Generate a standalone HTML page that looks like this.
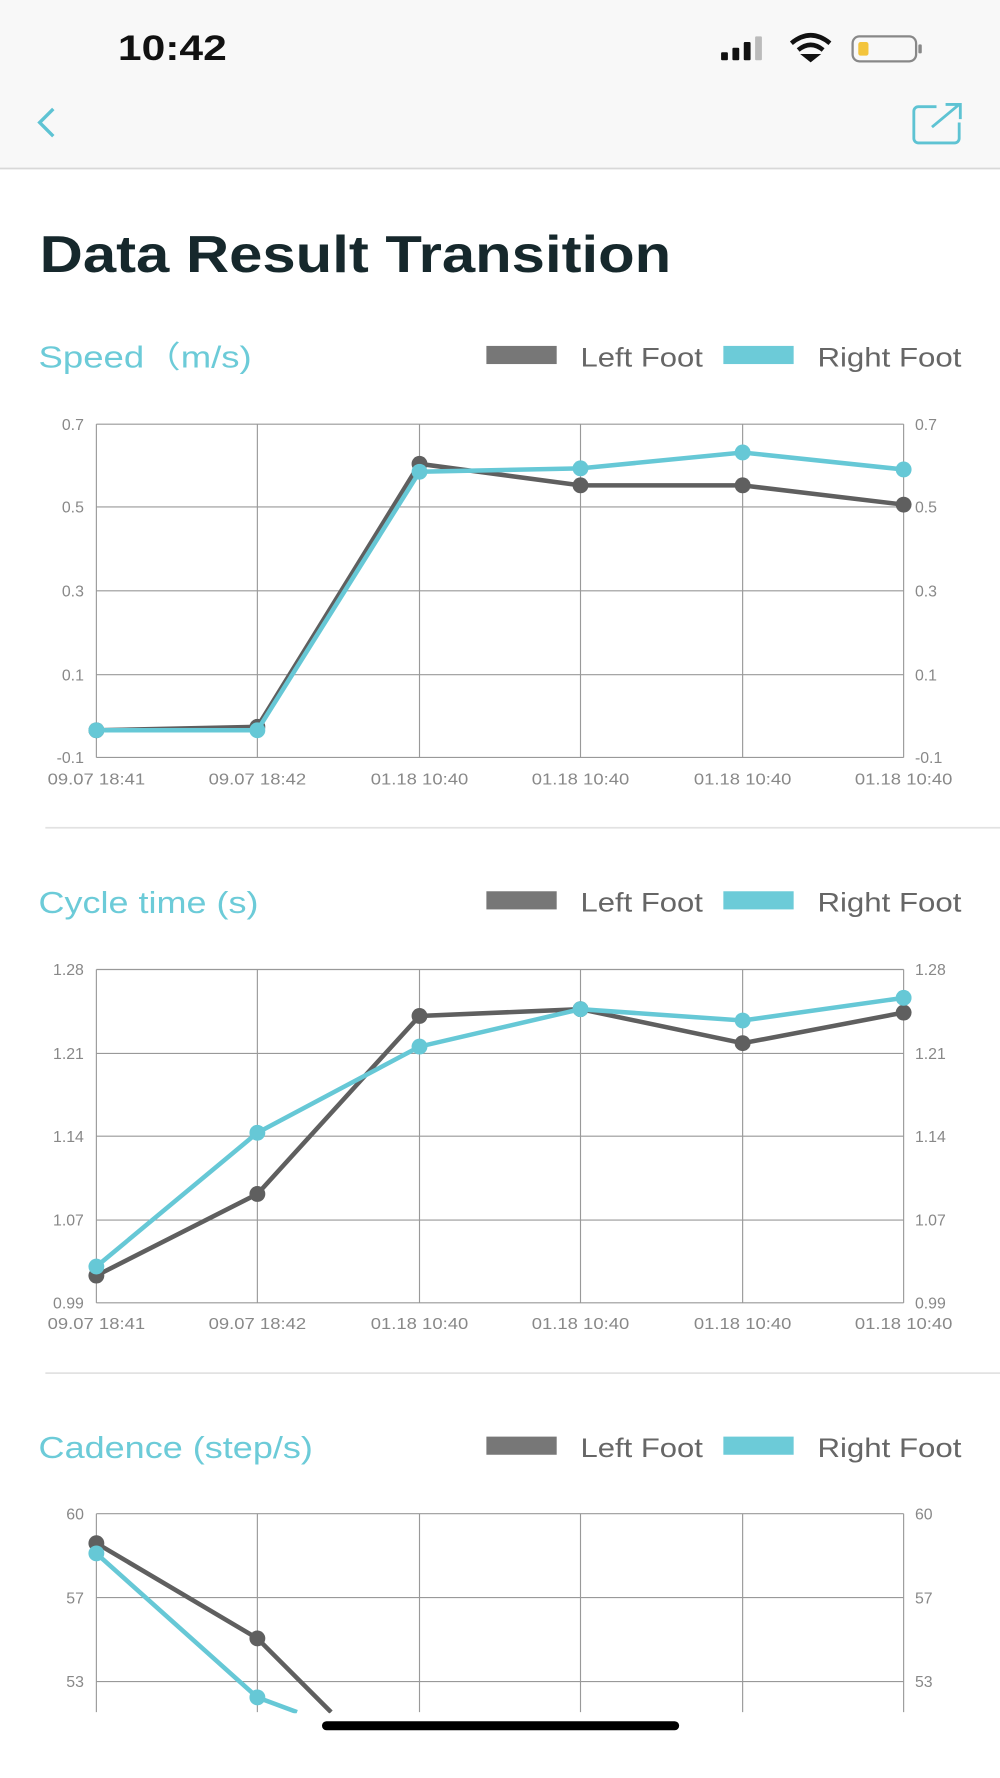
<!DOCTYPE html>
<html><head><meta charset="utf-8"><style>
html,body{margin:0;padding:0;background:#fff;width:1000px;height:1778px;overflow:hidden}
svg{display:block}
text{font-family:"Liberation Sans",sans-serif}
</style></head><body>
<svg width="1000" height="1778" viewBox="0 0 882 1568" xmlns="http://www.w3.org/2000/svg">
<rect x="0" y="0" width="882" height="148" fill="#f8f8f8"/>
<line x1="0" y1="148.5" x2="882" y2="148.5" stroke="#d8d8d8" stroke-width="1.5"/>
<text x="104" y="53" font-size="31" font-weight="bold" fill="#111" textLength="96" lengthAdjust="spacingAndGlyphs">10:42</text>
<rect x="636" y="46" width="6" height="7" rx="1" fill="#111"/>
<rect x="646" y="42" width="6" height="11" rx="1" fill="#111"/>
<rect x="656" y="37" width="6" height="16" rx="1" fill="#111"/>
<rect x="666" y="32" width="6" height="21" rx="1" fill="#bbb"/>
<path d="M698 38 Q715 24 732 38" stroke="#111" stroke-width="4" fill="none"/>
<path d="M704 44 Q715 35 726 44" stroke="#111" stroke-width="4" fill="none"/>
<path d="M710 49 L715 53 L720 49 Z" fill="#111" stroke="#111" stroke-width="3"/>
<rect x="752" y="32" width="56" height="22" rx="6" fill="none" stroke="#888" stroke-width="2"/>
<rect x="757" y="37" width="9" height="12" rx="2" fill="#f3c43c"/>
<rect x="810" y="39" width="3" height="8" rx="1" fill="#888"/>
<path d="M47 96 L35 108 L47 120" stroke="#5ec3d3" stroke-width="3" fill="none"/>
<path d="M826 94 H810 a4 4 0 0 0 -4 4 V122 a4 4 0 0 0 4 4 H842 a4 4 0 0 0 4 -4 V108" stroke="#5ec3d3" stroke-width="2.5" fill="none"/>
<path d="M822 112 L846 92 M834 92 H847 V105" stroke="#5ec3d3" stroke-width="2.5" fill="none"/>
<text x="35" y="240" font-size="46" font-weight="bold" fill="#16282c" textLength="557" lengthAdjust="spacingAndGlyphs">Data Result Transition</text>

<g>
<text x="34" y="324" font-size="27" fill="#6ccbd8" textLength="188" lengthAdjust="spacingAndGlyphs">Speed（m/s)</text>
<rect x="429" y="305" width="62" height="16" fill="#777"/><text x="512" y="323" font-size="24" fill="#666" textLength="108" lengthAdjust="spacingAndGlyphs">Left Foot</text>
<rect x="638" y="305" width="62" height="16" fill="#6ccbd8"/><text x="721" y="323" font-size="24" fill="#666" textLength="127" lengthAdjust="spacingAndGlyphs">Right Foot</text>
<g stroke="#999" stroke-width="1">
<line x1="85" y1="374" x2="797" y2="374"/><line x1="85" y1="447" x2="797" y2="447"/><line x1="85" y1="521" x2="797" y2="521"/><line x1="85" y1="595" x2="797" y2="595"/><line x1="85" y1="668" x2="797" y2="668"/>
<line x1="85" y1="374" x2="85" y2="668"/><line x1="227" y1="374" x2="227" y2="668"/><line x1="370" y1="374" x2="370" y2="668"/><line x1="512" y1="374" x2="512" y2="668"/><line x1="655" y1="374" x2="655" y2="668"/><line x1="797" y1="374" x2="797" y2="668"/>
</g>
<g font-size="14" fill="#888" text-anchor="end">
<text x="74" y="379">0.7</text><text x="74" y="452">0.5</text><text x="74" y="526">0.3</text><text x="74" y="600">0.1</text><text x="74" y="673">-0.1</text></g>
<g font-size="14" fill="#888">
<text x="807" y="379">0.7</text><text x="807" y="452">0.5</text><text x="807" y="526">0.3</text><text x="807" y="600">0.1</text><text x="807" y="673">-0.1</text></g>
<g font-size="14" fill="#888">
<text x="42" y="692" textLength="86" lengthAdjust="spacingAndGlyphs">09.07 18:41</text><text x="184" y="692" textLength="86" lengthAdjust="spacingAndGlyphs">09.07 18:42</text><text x="327" y="692" textLength="86" lengthAdjust="spacingAndGlyphs">01.18 10:40</text><text x="469" y="692" textLength="86" lengthAdjust="spacingAndGlyphs">01.18 10:40</text><text x="612" y="692" textLength="86" lengthAdjust="spacingAndGlyphs">01.18 10:40</text><text x="754" y="692" textLength="86" lengthAdjust="spacingAndGlyphs">01.18 10:40</text></g>
<polyline points="85,644 227,641 370,409 512,428 655,428 797,445" fill="none" stroke="#5f5f5f" stroke-width="4"/>
<g fill="#5f5f5f"><circle cx="85" cy="644" r="7"/><circle cx="227" cy="641" r="7"/><circle cx="370" cy="409" r="7"/><circle cx="512" cy="428" r="7"/><circle cx="655" cy="428" r="7"/><circle cx="797" cy="445" r="7"/></g>
<polyline points="85,644 227,644 370,416 512,413 655,399 797,414" fill="none" stroke="#66c8d6" stroke-width="4"/>
<g fill="#66c8d6"><circle cx="85" cy="644" r="7"/><circle cx="227" cy="644" r="7"/><circle cx="370" cy="416" r="7"/><circle cx="512" cy="413" r="7"/><circle cx="655" cy="399" r="7"/><circle cx="797" cy="414" r="7"/></g>
</g>
<line x1="40" y1="730" x2="882" y2="730" stroke="#e2e2e2" stroke-width="1.5"/>

<g>
<text x="34" y="805" font-size="27" fill="#6ccbd8" textLength="194" lengthAdjust="spacingAndGlyphs">Cycle time (s)</text>
<rect x="429" y="786" width="62" height="16" fill="#777"/><text x="512" y="804" font-size="24" fill="#666" textLength="108" lengthAdjust="spacingAndGlyphs">Left Foot</text>
<rect x="638" y="786" width="62" height="16" fill="#6ccbd8"/><text x="721" y="804" font-size="24" fill="#666" textLength="127" lengthAdjust="spacingAndGlyphs">Right Foot</text>
<g stroke="#999" stroke-width="1">
<line x1="85" y1="855" x2="797" y2="855"/><line x1="85" y1="929" x2="797" y2="929"/><line x1="85" y1="1002" x2="797" y2="1002"/><line x1="85" y1="1076" x2="797" y2="1076"/><line x1="85" y1="1149" x2="797" y2="1149"/>
<line x1="85" y1="855" x2="85" y2="1149"/><line x1="227" y1="855" x2="227" y2="1149"/><line x1="370" y1="855" x2="370" y2="1149"/><line x1="512" y1="855" x2="512" y2="1149"/><line x1="655" y1="855" x2="655" y2="1149"/><line x1="797" y1="855" x2="797" y2="1149"/>
</g>
<g font-size="14" fill="#888" text-anchor="end">
<text x="74" y="860">1.28</text><text x="74" y="934">1.21</text><text x="74" y="1007">1.14</text><text x="74" y="1081">1.07</text><text x="74" y="1154">0.99</text></g>
<g font-size="14" fill="#888">
<text x="807" y="860">1.28</text><text x="807" y="934">1.21</text><text x="807" y="1007">1.14</text><text x="807" y="1081">1.07</text><text x="807" y="1154">0.99</text></g>
<g font-size="14" fill="#888">
<text x="42" y="1172" textLength="86" lengthAdjust="spacingAndGlyphs">09.07 18:41</text><text x="184" y="1172" textLength="86" lengthAdjust="spacingAndGlyphs">09.07 18:42</text><text x="327" y="1172" textLength="86" lengthAdjust="spacingAndGlyphs">01.18 10:40</text><text x="469" y="1172" textLength="86" lengthAdjust="spacingAndGlyphs">01.18 10:40</text><text x="612" y="1172" textLength="86" lengthAdjust="spacingAndGlyphs">01.18 10:40</text><text x="754" y="1172" textLength="86" lengthAdjust="spacingAndGlyphs">01.18 10:40</text></g>
<polyline points="85,1125 227,1053 370,896 512,890 655,920 797,893" fill="none" stroke="#5f5f5f" stroke-width="4"/>
<g fill="#5f5f5f"><circle cx="85" cy="1125" r="7"/><circle cx="227" cy="1053" r="7"/><circle cx="370" cy="896" r="7"/><circle cx="512" cy="890" r="7"/><circle cx="655" cy="920" r="7"/><circle cx="797" cy="893" r="7"/></g>
<polyline points="85,1117 227,999 370,923 512,890 655,900 797,880" fill="none" stroke="#66c8d6" stroke-width="4"/>
<g fill="#66c8d6"><circle cx="85" cy="1117" r="7"/><circle cx="227" cy="999" r="7"/><circle cx="370" cy="923" r="7"/><circle cx="512" cy="890" r="7"/><circle cx="655" cy="900" r="7"/><circle cx="797" cy="880" r="7"/></g>
</g>
<line x1="40" y1="1211" x2="882" y2="1211" stroke="#e2e2e2" stroke-width="1.5"/>

<g>
<text x="34" y="1286" font-size="27" fill="#6ccbd8" textLength="242" lengthAdjust="spacingAndGlyphs">Cadence (step/s)</text>
<rect x="429" y="1267" width="62" height="16" fill="#777"/><text x="512" y="1285" font-size="24" fill="#666" textLength="108" lengthAdjust="spacingAndGlyphs">Left Foot</text>
<rect x="638" y="1267" width="62" height="16" fill="#6ccbd8"/><text x="721" y="1285" font-size="24" fill="#666" textLength="127" lengthAdjust="spacingAndGlyphs">Right Foot</text>
<g stroke="#999" stroke-width="1">
<line x1="85" y1="1335" x2="797" y2="1335"/><line x1="85" y1="1409" x2="797" y2="1409"/><line x1="85" y1="1483" x2="797" y2="1483"/>
<line x1="85" y1="1335" x2="85" y2="1510"/><line x1="227" y1="1335" x2="227" y2="1510"/><line x1="370" y1="1335" x2="370" y2="1510"/><line x1="512" y1="1335" x2="512" y2="1510"/><line x1="655" y1="1335" x2="655" y2="1510"/><line x1="797" y1="1335" x2="797" y2="1510"/>
</g>
<g font-size="14" fill="#888" text-anchor="end"><text x="74" y="1340">60</text><text x="74" y="1414">57</text><text x="74" y="1488">53</text></g>
<g font-size="14" fill="#888"><text x="807" y="1340">60</text><text x="807" y="1414">57</text><text x="807" y="1488">53</text></g>
<polyline points="85,1361 227,1445 292,1510" fill="none" stroke="#5f5f5f" stroke-width="4"/>
<g fill="#5f5f5f"><circle cx="85" cy="1361" r="7"/><circle cx="227" cy="1445" r="7"/></g>
<polyline points="85,1370 227,1497 262,1510" fill="none" stroke="#66c8d6" stroke-width="4"/>
<g fill="#66c8d6"><circle cx="85" cy="1370" r="7"/><circle cx="227" cy="1497" r="7"/></g>
</g>
<rect x="0" y="1511" width="882" height="57" fill="#fff"/>
<rect x="284" y="1518" width="315" height="8" rx="4" fill="#000"/>
</svg>
</body></html>
